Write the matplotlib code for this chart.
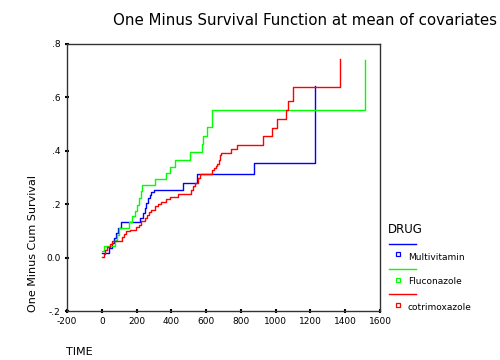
import numpy as np
import matplotlib
matplotlib.use("Agg")
import matplotlib.pyplot as plt
from matplotlib.lines import Line2D

# values (time, one minus cum survival)
multiTime = [0, 42, 56, 68, 80, 92, 109, 218, 235, 247, 257, 266, 276, 285, 303, 465, 546, 876, 1228]
multiVal = [0.017, 0.036, 0.055, 0.073, 0.092, 0.111, 0.132, 0.150, 0.167, 0.186, 0.204, 0.223, 0.236, 0.246, 0.255, 0.281, 0.313, 0.355, 0.642]

flucoTime = [0, 10, 78, 86, 100, 157, 176, 190, 205, 213, 224, 230, 305, 368, 391, 420, 506, 578, 584, 607, 634, 1515]
flucoVal = [0.024, 0.042, 0.067, 0.086, 0.111, 0.132, 0.154, 0.173, 0.198, 0.223, 0.248, 0.270, 0.294, 0.317, 0.341, 0.366, 0.395, 0.427, 0.455, 0.489, 0.552, 0.740]

cotriTime = [0, 10, 20, 32, 45, 56, 119, 128, 142, 165, 199, 214, 228, 247, 260, 272, 285, 305, 324, 343,
             368, 391, 439, 515, 525, 534, 553, 563, 636, 645, 655, 665, 674, 681, 688, 745, 779, 927,
             979, 1008, 1059, 1071, 1099, 1368]
cotriVal = [0.003, 0.015, 0.027, 0.038, 0.050, 0.061, 0.077, 0.087, 0.098, 0.105, 0.113, 0.123, 0.136, 0.148, 0.161, 0.169, 0.179, 0.192, 0.202, 0.210,
            0.219, 0.227, 0.238, 0.254, 0.267, 0.279, 0.298, 0.313, 0.327, 0.335, 0.344, 0.351, 0.364, 0.385, 0.393, 0.406, 0.421, 0.457,
            0.486, 0.518, 0.552, 0.588, 0.639, 0.744]

groupNames = ["Multivitamin", "Fluconazole", "cotrimoxazole"]
groupColors = ["#0000ff", "#00ff00", "#ff0000"]

xTicks = [-200, 0, 200, 400, 600, 800, 1000, 1200, 1400, 1600]
yTicks = [-0.2, 0.0, 0.2, 0.4, 0.6, 0.8]
yTickLabels = ["-.2", "0.0", ".2", ".4", ".6", ".8"]

plt.rcParams['font.family'] = ['DejaVu Sans']

fig = plt.figure(figsize=(5, 3.6), dpi=100)
ax = fig.add_axes([0.134, 0.136, 0.626, 0.742])

curves = [(multiTime, multiVal), (flucoTime, flucoVal), (cotriTime, cotriVal)]
for (t, v), c in zip(curves, groupColors):
    ax.plot(t, v, drawstyle="steps-post", color=c, linewidth=1.0)

ax.set_xlim(-200, 1600)
ax.set_ylim(-0.2, 0.8)
ax.set_xticks(xTicks)
ax.set_xticklabels([str(x) for x in xTicks], fontsize=6.5)
ax.set_yticks(yTicks)
ax.set_yticklabels(yTickLabels, fontsize=6.5)
ax.tick_params(direction="inout", length=3, width=1.5, pad=3)
for s in ax.spines.values():
    s.set_linewidth(1.0)
    s.set_color("#333333")

fig.text(0.226, 0.944, "One Minus Survival Function at mean of covariates",
         fontsize=10.8, ha="left", va="center")
fig.text(0.066, 0.325, "One Minus Cum Survival", rotation=90, fontsize=8,
         ha="center", va="center")
fig.text(0.132, 0.022, "TIME", fontsize=8, ha="left", va="center")

# legend drawn by hand to the right of the axes
fig.text(0.776, 1 - 230 / 360, "DRUG", fontsize=8.5, ha="left", va="center")
for i, (name, c) in enumerate(zip(groupNames, groupColors)):
    yLine = 1 - (244 + 25 * i) / 360
    ySq = 1 - (254 + 25.5 * i) / 360
    fig.add_artist(Line2D([389 / 500, 416 / 500], [yLine, yLine], color=c, linewidth=1.0))
    fig.add_artist(Line2D([398 / 500], [ySq], marker="s", markersize=3.5,
                          markerfacecolor="none", markeredgecolor=c, markeredgewidth=0.9))
    fig.text(408 / 500, 1 - (257 + 25 * i) / 360, name, fontsize=6.5, ha="left", va="center")

fig.savefig("out.png", dpi=100)
